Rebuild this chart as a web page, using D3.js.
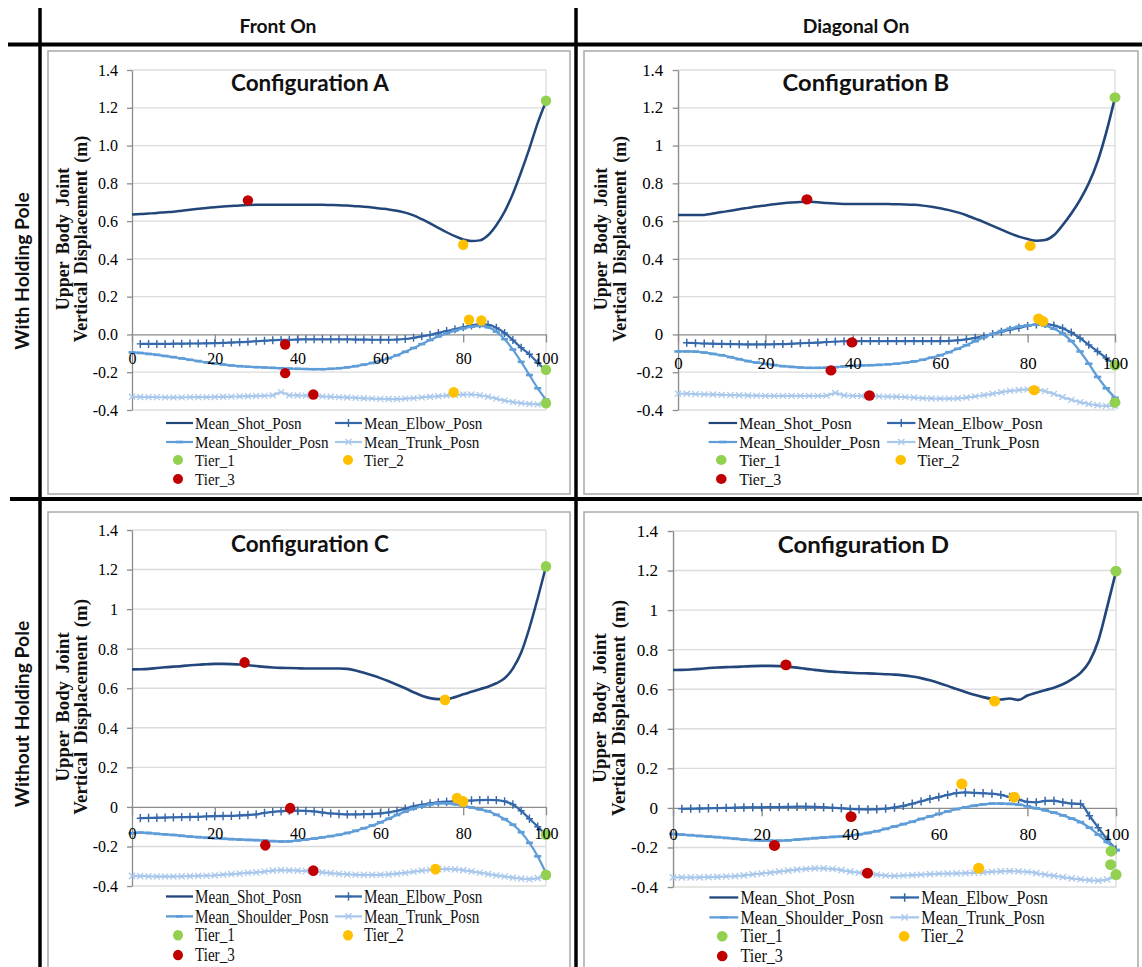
<!DOCTYPE html>
<html>
<head>
<meta charset="utf-8">
<script src="https://cdn.jsdelivr.net/npm/d3@7"></script>
<style>
  html, body { margin: 0; padding: 0; background: #fff; }
  svg { display: block; }
</style>
</head>
<body>
<svg id="fig" width="1142" height="967"></svg>
<script>
// ---- data -------------------------------------------------------------
// normalised movement time (%) shared by the joint series
const pct = [0,2,4,6,8,10,12,14,16,18,20,22,24,26,28,30,32,34,36,38,40,42,44,46,48,50,
             52,54,56,58,60,62,64,66,68,70,72,74,76,78,80,82,84,86,88,90,92,94,96,98,100];

// Configuration A (front on, with holding pole)
const shotA = [0.635,0.637,0.640,0.643,0.647,0.650,0.655,0.660,0.665,0.670,
  0.674,0.677,0.680,0.683,0.685,0.686,0.686,0.686,0.686,0.686,
  0.686,0.686,0.686,0.686,0.685,0.684,0.682,0.679,0.676,0.672,
  0.667,0.662,0.655,0.645,0.630,0.610,0.588,0.564,0.541,0.520,
  0.503,0.495,0.498,0.525,0.578,0.650,0.745,0.860,0.985,1.120,1.235];
const elbowA = [null,-0.050,-0.050,-0.050,-0.050,-0.049,-0.049,-0.048,-0.048,-0.047,
  -0.046,-0.045,-0.043,-0.041,-0.039,-0.036,-0.033,-0.031,-0.029,-0.028,
  -0.027,-0.026,-0.026,-0.026,-0.026,-0.026,-0.026,-0.027,-0.027,-0.028,
  -0.028,-0.028,-0.027,-0.024,-0.018,-0.010,-0.002,0.008,0.018,0.028,
  0.038,0.048,0.054,0.052,0.035,0.008,-0.030,-0.070,-0.105,-0.150,-0.190];
const shoulderA = [-0.095,-0.098,-0.103,-0.108,-0.114,-0.120,-0.127,-0.134,-0.141,-0.148,
  -0.154,-0.159,-0.164,-0.168,-0.171,-0.173,-0.175,-0.177,-0.179,-0.181,
  -0.182,-0.183,-0.184,-0.184,-0.182,-0.179,-0.174,-0.168,-0.160,-0.151,
  -0.140,-0.126,-0.110,-0.092,-0.072,-0.051,-0.030,-0.011,0.006,0.020,
  0.032,0.041,0.045,0.038,0.015,-0.025,-0.080,-0.145,-0.215,-0.285,-0.345];
const trunkA = [-0.330,-0.331,-0.332,-0.332,-0.333,-0.333,-0.333,-0.332,-0.332,-0.332,
  -0.331,-0.330,-0.329,-0.328,-0.327,-0.326,-0.325,-0.322,-0.305,-0.322,
  -0.323,-0.324,-0.326,-0.328,-0.330,-0.332,-0.334,-0.336,-0.338,-0.340,
  -0.341,-0.342,-0.342,-0.340,-0.337,-0.333,-0.330,-0.327,-0.324,-0.321,
  -0.318,-0.318,-0.322,-0.330,-0.340,-0.350,-0.358,-0.364,-0.368,-0.370,-0.370];
const tier1A = [[100,1.237],[100,-0.187],[100,-0.364]];
const tier2A = [[80,0.475],[81.4,0.078],[84.4,0.074],[77.7,-0.306]];
const tier3A = [[28,0.71],[37,-0.053],[37,-0.205],[43.8,-0.318]];

// Configuration B (diagonal on, with holding pole)
const shotB = [0.632,0.632,0.632,0.633,0.640,0.648,0.655,0.663,0.670,0.677,
  0.683,0.689,0.694,0.698,0.701,0.702,0.700,0.696,0.693,0.691,
  0.690,0.690,0.690,0.690,0.690,0.689,0.688,0.686,0.682,0.676,
  0.668,0.658,0.646,0.631,0.613,0.595,0.575,0.555,0.535,0.518,
  0.505,0.496,0.500,0.525,0.578,0.640,0.712,0.800,0.915,1.070,1.255];
const elbowB = [null,-0.044,-0.046,-0.048,-0.049,-0.050,-0.051,-0.052,-0.053,-0.053,
  -0.053,-0.052,-0.051,-0.049,-0.047,-0.045,-0.043,-0.040,-0.038,-0.036,
  -0.035,-0.035,-0.035,-0.035,-0.035,-0.035,-0.035,-0.035,-0.035,-0.035,
  -0.035,-0.034,-0.031,-0.026,-0.018,-0.009,0.002,0.014,0.025,0.035,
  0.045,0.053,0.055,0.048,0.033,0.010,-0.020,-0.055,-0.090,-0.125,-0.158];
const shoulderB = [-0.090,-0.090,-0.091,-0.096,-0.103,-0.110,-0.120,-0.131,-0.141,-0.149,
  -0.156,-0.162,-0.168,-0.172,-0.175,-0.177,-0.177,-0.176,-0.173,-0.169,
  -0.166,-0.164,-0.163,-0.161,-0.158,-0.155,-0.150,-0.143,-0.134,-0.123,
  -0.110,-0.094,-0.076,-0.057,-0.036,-0.015,0.003,0.018,0.031,0.041,
  0.048,0.052,0.046,0.030,0.005,-0.035,-0.090,-0.155,-0.225,-0.285,-0.335];
const trunkB = [-0.313,-0.314,-0.316,-0.317,-0.318,-0.320,-0.321,-0.322,-0.323,-0.324,
  -0.325,-0.325,-0.325,-0.325,-0.325,-0.325,-0.325,-0.324,-0.310,-0.322,
  -0.325,-0.326,-0.327,-0.328,-0.329,-0.330,-0.332,-0.334,-0.337,-0.339,
  -0.340,-0.340,-0.338,-0.334,-0.328,-0.321,-0.314,-0.306,-0.299,-0.294,
  -0.291,-0.292,-0.300,-0.315,-0.331,-0.346,-0.358,-0.368,-0.375,-0.378,-0.378];
const tier1B = [[100,1.255],[100,-0.163],[100,-0.36]];
const tier2B = [[80.6,0.469],[82.5,0.083],[83.5,0.07],[81.5,-0.295]];
const tier3B = [[29.5,0.715],[39.8,-0.042],[35,-0.19],[43.8,-0.323]];

// Configuration C (front on, without holding pole)
const shotC = [0.695,0.696,0.698,0.702,0.706,0.709,0.712,0.716,0.719,0.721,
  0.723,0.723,0.722,0.720,0.716,0.712,0.708,0.705,0.703,0.702,
  0.701,0.700,0.700,0.700,0.700,0.700,0.698,0.690,0.678,0.665,
  0.651,0.635,0.618,0.600,0.580,0.562,0.550,0.545,0.545,0.555,
  0.569,0.582,0.595,0.608,0.625,0.650,0.700,0.780,0.905,1.055,1.216];
const elbowC = [null,-0.057,-0.056,-0.055,-0.054,-0.053,-0.052,-0.051,-0.050,-0.048,
  -0.047,-0.046,-0.045,-0.043,-0.041,-0.038,-0.030,-0.025,-0.022,-0.019,
  -0.019,-0.020,-0.023,-0.028,-0.033,-0.036,-0.038,-0.038,-0.037,-0.036,
  -0.033,-0.028,-0.020,-0.009,0.002,0.011,0.018,0.023,0.026,0.028,
  0.030,0.032,0.034,0.035,0.034,0.028,0.012,-0.020,-0.060,-0.100,-0.140];
const shoulderC = [-0.133,-0.130,-0.132,-0.136,-0.139,-0.142,-0.146,-0.150,-0.153,-0.156,
  -0.158,-0.161,-0.163,-0.165,-0.167,-0.168,-0.170,-0.173,-0.175,-0.174,
  -0.170,-0.165,-0.160,-0.154,-0.148,-0.141,-0.132,-0.121,-0.108,-0.094,
  -0.078,-0.060,-0.041,-0.024,-0.009,0.003,0.012,0.018,0.018,0.014,
  0.006,-0.003,-0.012,-0.022,-0.040,-0.062,-0.090,-0.128,-0.182,-0.250,-0.335];
const trunkC = [-0.349,-0.350,-0.351,-0.352,-0.352,-0.352,-0.351,-0.350,-0.349,-0.348,
  -0.346,-0.343,-0.340,-0.337,-0.334,-0.331,-0.327,-0.322,-0.320,-0.321,
  -0.322,-0.324,-0.327,-0.331,-0.335,-0.339,-0.341,-0.343,-0.344,-0.344,
  -0.343,-0.341,-0.338,-0.334,-0.328,-0.322,-0.318,-0.315,-0.314,-0.316,
  -0.320,-0.326,-0.333,-0.340,-0.346,-0.352,-0.358,-0.363,-0.365,-0.360,-0.350];
const tier1C = [[100,1.216],[100,-0.14],[100,-0.344]];
const tier2C = [[75.6,0.541],[78.5,0.044],[80,0.027],[73.3,-0.315]];
const tier3C = [[27.2,0.73],[38.2,-0.007],[32.2,-0.194],[43.8,-0.322]];

// Configuration D (diagonal on, without holding pole)
const shotD = [0.697,0.698,0.700,0.703,0.707,0.710,0.712,0.713,0.715,0.717,
  0.718,0.718,0.717,0.714,0.709,0.703,0.698,0.693,0.689,0.686,
  0.683,0.681,0.680,0.678,0.676,0.674,0.670,0.664,0.656,0.645,
  0.632,0.617,0.601,0.586,0.572,0.560,0.551,0.548,0.553,0.546,
  0.568,0.582,0.595,0.608,0.625,0.650,0.683,0.740,0.845,1.015,1.195];
const elbowD = [null,-0.005,-0.004,-0.003,-0.002,-0.001,0.000,0.001,0.002,0.003,
  0.003,0.004,0.004,0.005,0.006,0.006,0.005,0.003,0.001,-0.002,
  -0.005,-0.007,-0.008,-0.007,-0.004,0.002,0.010,0.021,0.033,0.045,
  0.055,0.066,0.075,0.078,0.076,0.074,0.072,0.066,0.055,0.042,
  0.030,0.028,0.035,0.036,0.028,0.022,0.020,-0.040,-0.100,-0.160,-0.210];
const shoulderD = [-0.132,-0.135,-0.138,-0.142,-0.145,-0.148,-0.152,-0.156,-0.160,-0.163,
  -0.165,-0.166,-0.166,-0.164,-0.160,-0.157,-0.153,-0.150,-0.147,-0.144,
  -0.140,-0.134,-0.127,-0.118,-0.106,-0.094,-0.082,-0.070,-0.056,-0.043,
  -0.030,-0.018,-0.006,0.003,0.011,0.018,0.022,0.022,0.020,0.016,
  0.008,-0.002,-0.012,-0.024,-0.038,-0.054,-0.072,-0.100,-0.135,-0.172,-0.215];
const trunkD = [-0.351,-0.351,-0.351,-0.351,-0.350,-0.349,-0.347,-0.345,-0.341,-0.336,
  -0.332,-0.327,-0.322,-0.317,-0.312,-0.309,-0.306,-0.306,-0.309,-0.315,
  -0.322,-0.328,-0.333,-0.338,-0.342,-0.344,-0.342,-0.340,-0.338,-0.335,
  -0.333,-0.332,-0.331,-0.330,-0.328,-0.326,-0.323,-0.321,-0.320,-0.321,
  -0.324,-0.330,-0.337,-0.344,-0.350,-0.356,-0.361,-0.365,-0.368,-0.362,-0.345];
const tier1D = [[100,1.197],[98.9,-0.219],[98.8,-0.287],[100,-0.337]];
const tier2D = [[72.6,0.54],[65.2,0.121],[77,0.054],[69,-0.305]];
const tier3D = [[25.5,0.723],[40.2,-0.044],[22.9,-0.19],[43.9,-0.33]];

// labels
const panelTitles = ["Configuration A", "Configuration B", "Configuration C", "Configuration D"];
const columnHeaders = ["Front On", "Diagonal On"];
const rowHeaders = ["With Holding Pole", "Without Holding Pole"];
const seriesNames = ["Mean_Shot_Posn", "Mean_Elbow_Posn", "Mean_Shoulder_Posn", "Mean_Trunk_Posn"];
const tierNames = ["Tier_1", "Tier_2", "Tier_3"];
const axisTitleLines = ["Upper Body Joint", "Vertical Displacement (m)"];
const yTickValues = [1.4, 1.2, 1.0, 0.8, 0.6, 0.4, 0.2, 0, -0.2, -0.4];
const yTickLabelsA = ["1.4", "1.2", "1.0", "0.8", "0.6", "0.4", "0.2", "0.0", "-0.2", "-0.4"];
const yTickLabels = ["1.4", "1.2", "1", "0.8", "0.6", "0.4", "0.2", "0", "-0.2", "-0.4"];
const xTickValues = [0, 20, 40, 60, 80, 100];
const xTickLabels = ["0", "20", "40", "60", "80", "100"];

// ---- styling --------------------------------------------------------------
const SERIF = "'Liberation Serif','Times New Roman',serif";
const SANS = "Lato,'Open Sans',sans-serif";
const COL = {
  shot: "#22467A", elbow: "#3568AA", shoulder: "#5F9DD8", trunk: "#A9C8EB",
  tiers: ["#92D050", "#FFC000", "#C00000"],
  grid: "#DCDCDC", axis: "#8C8C8C", frame: "#A9A9A9"
};
const markerPath = {
  plus: "M-3.5,0H3.5M0,-4V4",
  dash: "M-3.5,0H3.5",
  cross: "M-3,-3L3,3M-3,3L3,-3"
};
const markerWidth = { plus: 1.4, dash: 2.6, cross: 1.2 };

// plot area in the un-stretched chart frame
const W = 414, H = 340;

const panels = [
  { title: panelTitles[0], shot: shotA, elbow: elbowA, shoulder: shoulderA, trunk: trunkA,
    tiers: [tier1A, tier2A, tier3A], yLabels: yTickLabelsA,
    box: [48, 51, 570, 494], tx: 132, ty: 70, sx: 1, sy: 1, xLabelGap: 24, shift: 0, legendLift: 0 },
  { title: panelTitles[1], shot: shotB, elbow: elbowB, shoulder: shoulderB, trunk: trunkB,
    tiers: [tier1B, tier2B, tier3B], yLabels: yTickLabels,
    box: [584, 51, 1138, 494], tx: 678, ty: 70, sx: 437 / 414, sy: 1, xLabelGap: 29, shift: -5, legendLift: 0 },
  { title: panelTitles[2], shot: shotC, elbow: elbowC, shoulder: shoulderC, trunk: trunkC,
    tiers: [tier1C, tier2C, tier3C], yLabels: yTickLabels,
    box: [48, 512, 570, 990], tx: 132, ty: 530, sx: 1, sy: 356 / 340, xLabelGap: 25, shift: 0, legendLift: 3 },
  { title: panelTitles[3], shot: shotD, elbow: elbowD, shoulder: shoulderD, trunk: trunkD,
    tiers: [tier1D, tier2D, tier3D], yLabels: yTickLabels,
    box: [584, 512, 1138, 990], tx: 673, ty: 531, sx: 443 / 414, sy: 356 / 340, xLabelGap: 25, shift: 0, legendLift: 3 }
];

const svg = d3.select("#fig");

function fitFontSize(text, family, weight, targetWidth) {
  const t = svg.append("text").attr("font-family", family).attr("font-weight", weight)
    .attr("font-size", 20).text(text);
  const w = t.node().getComputedTextLength();
  t.remove();
  return 20 * targetWidth / w;
}
const headerSize = fitFontSize(columnHeaders[0], SANS, 700, 77);
const titleSize = fitFontSize(panelTitles[0], SANS, 700, 158);

// ---- panels ---------------------------------------------------------------
function drawPanel(p) {
  svg.append("rect")
    .attr("x", p.box[0]).attr("y", p.box[1])
    .attr("width", p.box[2] - p.box[0]).attr("height", p.box[3] - p.box[1])
    .attr("fill", "#fff").attr("stroke", COL.frame).attr("stroke-width", 1.5);

  const g = svg.append("g")
    .attr("transform", `translate(${p.tx},${p.ty}) scale(${p.sx},${p.sy})`);

  const x = d3.scaleLinear().domain([0, 100]).range([0, W]);
  const y = d3.scaleLinear().domain([-0.4, 1.4]).range([H, 0]);

  // horizontal gridlines and right edge
  g.append("g").selectAll("line")
    .data(yTickValues.filter(v => v !== 0)).join("line")
    .attr("x1", 0).attr("x2", W).attr("y1", d => y(d)).attr("y2", d => y(d))
    .attr("stroke", COL.grid).attr("stroke-width", 1.3);
  g.append("line").attr("x1", W).attr("x2", W).attr("y1", 0).attr("y2", H)
    .attr("stroke", COL.grid).attr("stroke-width", 1.3);

  // axis lines with outside tick marks
  const yAxisG = g.append("g")
    .call(d3.axisLeft(y).tickValues(yTickValues).tickSize(5).tickSizeOuter(0).tickFormat(""));
  const xAxisG = g.append("g").attr("transform", `translate(0,${y(0)})`)
    .call(d3.axisBottom(x).tickValues(xTickValues).tickSize(8).tickSizeOuter(0).tickFormat(""));
  [yAxisG, xAxisG].forEach(a => a.selectAll("path,line")
    .attr("stroke", COL.axis).attr("stroke-width", 1.3));

  // chart title
  g.append("text")
    .attr("x", 178).attr("y", 21)
    .attr("text-anchor", "middle")
    .attr("font-family", SANS).attr("font-weight", 700).attr("font-size", titleSize)
    .attr("fill", "#111")
    .text(p.title);

  // vertical axis title, two lines
  const titleX = [-69 + p.shift, -51 + p.shift];
  axisTitleLines.forEach((t, i) => {
    g.append("text")
      .attr("transform", `translate(${titleX[i]},${H / 2 - 1}) rotate(-90)`)
      .attr("text-anchor", "middle").attr("dy", "0.35em")
      .attr("font-family", SERIF).attr("font-weight", 700).attr("font-size", 18)
      .attr("word-spacing", 3).attr("fill", "#111")
      .text(t);
  });

  // joint series
  const line = d3.line().x(d => x(d[0])).y(d => y(d[1])).curve(d3.curveMonotoneX);
  const pts = arr => pct.map((v, i) => [v, arr[i]]).filter(d => d[1] != null);
  const series = [
    { data: p.shot, color: COL.shot, marker: null, width: 2.5 },
    { data: p.elbow, color: COL.elbow, marker: "plus", width: 2.2 },
    { data: p.shoulder, color: COL.shoulder, marker: "dash", width: 2.2 },
    { data: p.trunk, color: COL.trunk, marker: "cross", width: 2.2 }
  ];
  series.forEach(s => {
    const d = pts(s.data);
    g.append("path").attr("d", line(d)).attr("fill", "none")
      .attr("stroke", s.color).attr("stroke-width", s.width).attr("stroke-linejoin", "round");
    if (s.marker) {
      g.append("g").selectAll("path").data(d).join("path")
        .attr("transform", q => `translate(${x(q[0])},${y(q[1])})`)
        .attr("d", markerPath[s.marker]).attr("fill", "none")
        .attr("stroke", s.color).attr("stroke-width", markerWidth[s.marker]);
    }
  });

  // tier markers
  p.tiers.forEach((t, k) => {
    g.append("g").selectAll("circle").data(t).join("circle")
      .attr("cx", d => x(d[0])).attr("cy", d => y(d[1])).attr("r", 5.2)
      .attr("fill", COL.tiers[k]);
  });

  // tick labels drawn above the data
  const yLab = g.append("g")
    .call(d3.axisLeft(y).tickValues(yTickValues).tickSize(0).tickPadding(14)
      .tickFormat((d, i) => p.yLabels[i]));
  const xLab = g.append("g").attr("transform", `translate(0,${y(0)})`)
    .call(d3.axisBottom(x).tickValues(xTickValues).tickSize(0).tickPadding(p.xLabelGap - 6)
      .tickFormat((d, i) => xTickLabels[i]));
  [yLab, xLab].forEach(a => {
    a.select(".domain").remove();
    a.attr("font-family", SERIF).attr("font-size", 16);
    a.selectAll("text").attr("fill", "#000");
  });

  // legend
  const legendRowY = [353, 372, 390, 409].map(v => v - p.legendLift);
  const sampleX = [[34, 61], [203, 230]];
  const dotX = [46, 216];
  const textX = [63, 232];
  const items = [
    { name: seriesNames[0], color: COL.shot, marker: null, col: 0, row: 0 },
    { name: seriesNames[1], color: COL.elbow, marker: "plus", col: 1, row: 0 },
    { name: seriesNames[2], color: COL.shoulder, marker: "dash", col: 0, row: 1 },
    { name: seriesNames[3], color: COL.trunk, marker: "cross", col: 1, row: 1 },
    { name: tierNames[0], color: COL.tiers[0], dot: true, col: 0, row: 2 },
    { name: tierNames[1], color: COL.tiers[1], dot: true, col: 1, row: 2 },
    { name: tierNames[2], color: COL.tiers[2], dot: true, col: 0, row: 3 }
  ];
  const lg = g.append("g").attr("transform", `translate(${p.shift},0)`);
  items.forEach(it => {
    const cy = legendRowY[it.row];
    if (it.dot) {
      lg.append("circle").attr("cx", dotX[it.col]).attr("cy", cy).attr("r", 5)
        .attr("fill", it.color);
    } else {
      const [a, b] = sampleX[it.col];
      lg.append("line").attr("x1", a).attr("x2", b).attr("y1", cy).attr("y2", cy)
        .attr("stroke", it.color).attr("stroke-width", 2.2);
      if (it.marker) {
        lg.append("path").attr("transform", `translate(${(a + b) / 2},${cy})`)
          .attr("d", markerPath[it.marker]).attr("fill", "none")
          .attr("stroke", it.color).attr("stroke-width", markerWidth[it.marker]);
      }
    }
    lg.append("text")
      .attr("transform", `translate(${textX[it.col]},${cy}) scale(0.89,1)`)
      .attr("dy", "0.35em")
      .attr("font-family", SERIF).attr("font-size", 17).attr("fill", "#111")
      .text(it.name);
  });
}

panels.forEach(drawPanel);

// ---- table rules and headers ---------------------------------------------
const rules = svg.append("g").attr("stroke", "#000");
rules.append("line").attr("x1", 40).attr("x2", 40).attr("y1", 8).attr("y2", 967).attr("stroke-width", 3.5);
rules.append("line").attr("x1", 576).attr("x2", 576).attr("y1", 8).attr("y2", 967).attr("stroke-width", 3.5);
rules.append("line").attr("x1", 8).attr("x2", 1142).attr("y1", 44.5).attr("y2", 44.5).attr("stroke-width", 4);
rules.append("line").attr("x1", 10).attr("x2", 1142).attr("y1", 499).attr("y2", 499).attr("stroke-width", 4);

const headerX = [278, 856];
columnHeaders.forEach((t, i) => {
  svg.append("text").attr("x", headerX[i]).attr("y", 33)
    .attr("text-anchor", "middle")
    .attr("font-family", SANS).attr("font-weight", 700).attr("font-size", headerSize)
    .attr("fill", "#111").text(t);
});
const rowY = [271, 714];
rowHeaders.forEach((t, i) => {
  svg.append("text")
    .attr("transform", `translate(22,${rowY[i]}) rotate(-90)`)
    .attr("text-anchor", "middle").attr("dy", "0.35em")
    .attr("font-family", SANS).attr("font-weight", 700).attr("font-size", headerSize)
    .attr("fill", "#111").text(t);
});
</script>
</body>
</html>
